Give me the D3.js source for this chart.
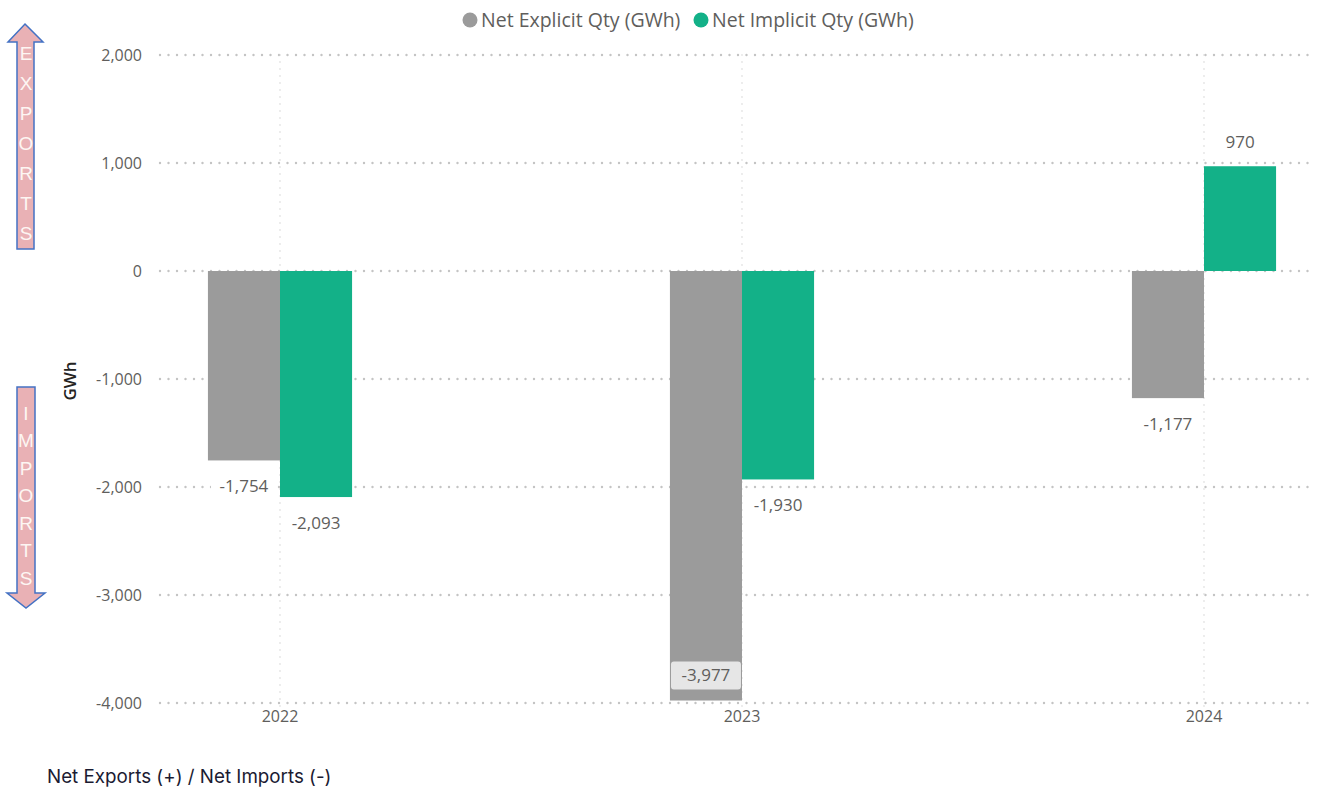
<!DOCTYPE html>
<html><head><meta charset="utf-8">
<script src="https://cdn.jsdelivr.net/npm/d3@7"></script>
<style>
body{margin:0;background:#fff;}
svg{display:block;font-family:"Segoe UI","Open Sans","Noto Sans",sans-serif;}
</style></head>
<body>
<svg id="c" width="1322" height="787"></svg>
<script>
const years = ["2022","2023","2024"];
const seriesNames = ["Net Explicit Qty (GWh)","Net Implicit Qty (GWh)"];
const explicitQty = [-1754,-3977,-1177];
const implicitQty = [-2093,-1930,970];
const yTicks = [2000,1000,0,-1000,-2000,-3000,-4000];
const colors = ["#9b9b9b","#13b188"];
const exportsLetters = ["E","X","P","O","R","T","S"];
const importsLetters = ["I","M","P","O","R","T","S"];

const svg = d3.select("#c");
const y = d3.scaleLinear().domain([-4000,2000]).range([703,55]);
const x = d3.scaleBand().domain(years).range([49,1435]).paddingInner(0.688).paddingOuter(0.344);
const xs = d3.scaleBand().domain([0,1]).range([0,x.bandwidth()]);
const f0 = d3.format(",");
const fmt = v => f0(v).replace("\u2212","-");
const plotL = 160, plotR = 1312;

// horizontal grid
svg.append("g").selectAll("line").data(yTicks).join("line")
  .attr("x1",plotL).attr("x2",plotR).attr("y1",d=>y(d)).attr("y2",d=>y(d))
  .attr("stroke","#c4c4c4").attr("stroke-width",2.4).attr("stroke-dasharray","0,8.5").attr("stroke-linecap","round");
// vertical grid
svg.append("g").selectAll("line").data(years).join("line")
  .attr("x1",d=>x(d)+x.bandwidth()/2).attr("x2",d=>x(d)+x.bandwidth()/2)
  .attr("y1",55).attr("y2",712)
  .attr("stroke","#d4d4d4").attr("stroke-width",1.6).attr("stroke-dasharray","0,7").attr("stroke-linecap","round");

// y axis
const yAxis = d3.axisLeft(y).tickValues(yTicks).tickFormat(fmt).tickSize(0).tickPadding(0);
const ya = svg.append("g").attr("transform","translate(142,0)").call(yAxis);
ya.select(".domain").remove();
ya.selectAll("text").attr("fill","#605e5c").style("font-size","16px").attr("font-family","'Segoe UI','Open Sans',sans-serif");

// x axis
const xAxis = d3.axisBottom(x).tickSize(0).tickPadding(0);
const xa = svg.append("g").attr("transform","translate(0,711)").call(xAxis);
xa.select(".domain").remove();
xa.selectAll("text").attr("fill","#605e5c").style("font-size","16px").attr("font-family","'Segoe UI','Open Sans',sans-serif");

// axis title
svg.append("text").attr("transform","translate(70,381) rotate(-90)").attr("text-anchor","middle").attr("dy","0.35em")
  .attr("fill","#252423").style("font-size","17px").style("font-weight","600").text("GWh");

// bars
const rows = years.map((yr,i)=>({yr, vals:[explicitQty[i],implicitQty[i]]}));
const groups = svg.append("g").selectAll("g").data(rows).join("g").attr("transform",d=>`translate(${x(d.yr)},0)`);
groups.selectAll("rect").data(d=>d.vals.map((v,k)=>({v,k}))).join("rect")
  .attr("x",d=>xs(d.k)).attr("width",xs.bandwidth())
  .attr("y",d=>Math.min(y(d.v),y(0))).attr("height",d=>Math.abs(y(d.v)-y(0)))
  .attr("fill",d=>colors[d.k]);

// labels
const labels = [];
rows.forEach(r=>r.vals.forEach((v,k)=>labels.push({yr:r.yr,v,k})));
const lg = svg.append("g");
labels.forEach(d=>{
  const cx = x(d.yr)+xs(d.k)+xs.bandwidth()/2;
  const end = y(d.v);
  const inside = (y(d.v) > 690);
  let cy;
  if (inside) cy = end - 25;
  else cy = d.v < 0 ? end + 26 : end - 24;
  const t = fmt(d.v);
  const w = inside ? 70 : t.length*9+12;
  lg.append("rect").attr("x",cx-w/2).attr("y",cy-14).attr("width",w).attr("height",28).attr("rx",3)
    .attr("fill", inside ? "#e6e6e6" : "#ffffff");
  lg.append("text").attr("x",cx).attr("y",cy).attr("dy","0.35em").attr("text-anchor","middle")
    .attr("fill","#605e5c").style("font-size","17px").text(t);
});

// legend
const leg = svg.append("g");
const legPos = [[470,481],[701,712]];
seriesNames.forEach((n,i)=>{
  leg.append("circle").attr("cx",legPos[i][0]).attr("cy",20).attr("r",7.5).attr("fill",colors[i]);
  leg.append("text").attr("x",legPos[i][1]).attr("y",20).attr("dy","0.35em").attr("fill","#605e5c")
    .style("font-size","19.5px").text(n);
});

// arrows
function arrow(points, letters, startY, step){
  svg.append("path").attr("d", d3.line()(points)+"Z").attr("fill","#e9b1b5").attr("stroke","#4472c4").attr("stroke-width",1.5);
  svg.append("g").selectAll("text").data(letters).join("text")
    .attr("x",26).attr("y",(d,i)=>startY+i*step).attr("dy","0.35em").attr("text-anchor","middle")
    .attr("fill","#fdf6f3").style("font-size","19px").style("font-family","'Liberation Sans',sans-serif").text(d=>d);
}
arrow([[25,24],[43,42],[34,42],[34,249],[17,249],[17,42],[8,42]], exportsLetters, 53, 30);
arrow([[17,387],[35,387],[35,593],[45,593],[26,608],[7,593],[17,593]], importsLetters, 413, 27.5);

// footer
svg.append("text").attr("x",47).attr("y",776).attr("dy","0.35em").attr("fill","#1b1b32")
  .style("font-size","18.8px").style("font-family","Inter,'Segoe UI',sans-serif").text("Net Exports (+) / Net Imports (-)");
</script>
</body></html>
